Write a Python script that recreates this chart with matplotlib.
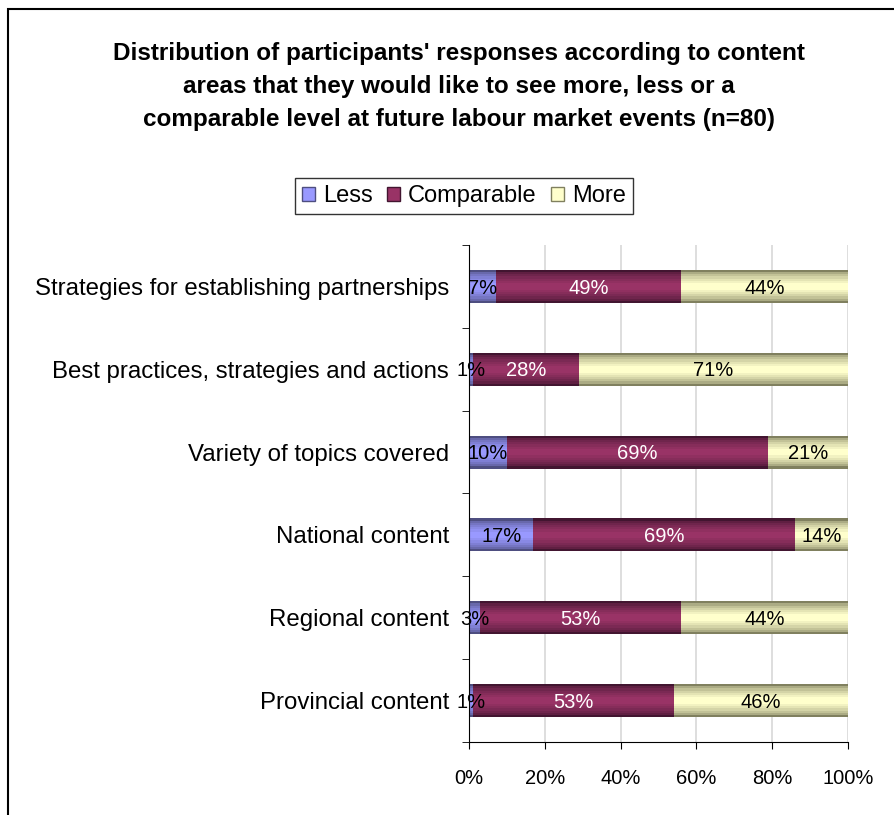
import numpy as np
import matplotlib.pyplot as plt
from matplotlib.patches import Patch, Rectangle
from matplotlib.colors import to_rgb
from matplotlib.ticker import FuncFormatter

plt.rcParams['font.family'] = ['Liberation Sans', 'DejaVu Sans']

categories = ['Strategies for establishing partnerships',
              'Best practices, strategies and actions',
              'Variety of topics covered',
              'National content',
              'Regional content',
              'Provincial content']
less = [7, 1, 10, 17, 3, 1]
comparable = [49, 28, 69, 69, 53, 53]
more = [44, 71, 21, 14, 44, 46]

series = ['Less', 'Comparable', 'More']
# (edge shade, centre shade)
shades = {
    'Less': ('#4e4e80', '#9999ff'),
    'Comparable': ('#421530', '#993366'),
    'More': ('#80805f', '#ffffcc'),
}
label_colors = {'Less': 'black', 'Comparable': 'white', 'More': 'black'}

fig = plt.figure(figsize=(8.94, 8.15), dpi=100)
ax = fig.add_axes([0.5246, 0.0896, 0.4239, 0.6098])

y = np.arange(len(categories))
h = 0.4
nlayers = 7
left = np.zeros(len(categories))
for name, vals in zip(series, [less, comparable, more]):
    vals = np.array(vals, dtype=float)
    c_edge = np.array(to_rgb(shades[name][0]))
    c_ctr = np.array(to_rgb(shades[name][1]))
    # stacked layers give a shaded, cylinder-like look
    for k in range(nlayers):
        t = k / (nlayers - 1)
        col = c_edge + (c_ctr - c_edge) * t ** 0.6
        ax.barh(y, vals, height=h * (1 - 0.8 * t), left=left, color=col,
                linewidth=0, zorder=2 + k * 0.01)
    for yi, l, v in zip(y, left, vals):
        ax.text(l + v / 2, yi + 0.02, f'{int(v)}%', ha='center', va='center',
                fontsize=14.5, color=label_colors[name], zorder=5)
    left += vals

ax.set_xlim(0, 100)
ax.set_ylim(len(categories) - 0.5, -0.5)
ax.set_xticks(np.arange(0, 101, 20))
ax.xaxis.set_major_formatter(FuncFormatter(lambda v, p: f'{int(v)}%'))
ax.set_yticks(y)
ax.set_yticklabels(categories)
ax.set_yticks(np.arange(-0.5, len(categories), 1), minor=True)
ax.tick_params(axis='y', which='major', length=0, labelsize=17.3, pad=14.5)
ax.tick_params(axis='y', which='minor', length=5, direction='out')
ax.tick_params(axis='x', length=5, direction='out', labelsize=14.5, pad=14.5)
ax.grid(axis='x', color='#d8d8d8', linewidth=1.2, zorder=0)
ax.set_axisbelow(True)
for s in ['top', 'right']:
    ax.spines[s].set_visible(False)

handles = [Patch(facecolor=shades[n][1], edgecolor=shades[n][0]) for n in series]
fig.legend(handles, series, loc='center', bbox_to_anchor=(0.519, 0.7595),
           ncol=3, fontsize=17, frameon=True, fancybox=False, edgecolor='black',
           handlelength=0.55, handleheight=0.55, handletextpad=0.35, columnspacing=0.6,
           borderpad=0.3)

fig.text(0.513, 0.8935,
         "Distribution of participants' responses according to content\n"
         "areas that they would like to see more, less or a\n"
         "comparable level at future labour market events (n=80)",
         ha='center', va='center', fontsize=17.5, fontweight='bold', linespacing=1.55)

fig.patches.append(Rectangle((8 / 894, -0.01), 1.0, 1 - 9 / 815 + 0.01,
                             transform=fig.transFigure, fill=False,
                             edgecolor='black', linewidth=1.5))

fig.savefig('out.png', dpi=100)
